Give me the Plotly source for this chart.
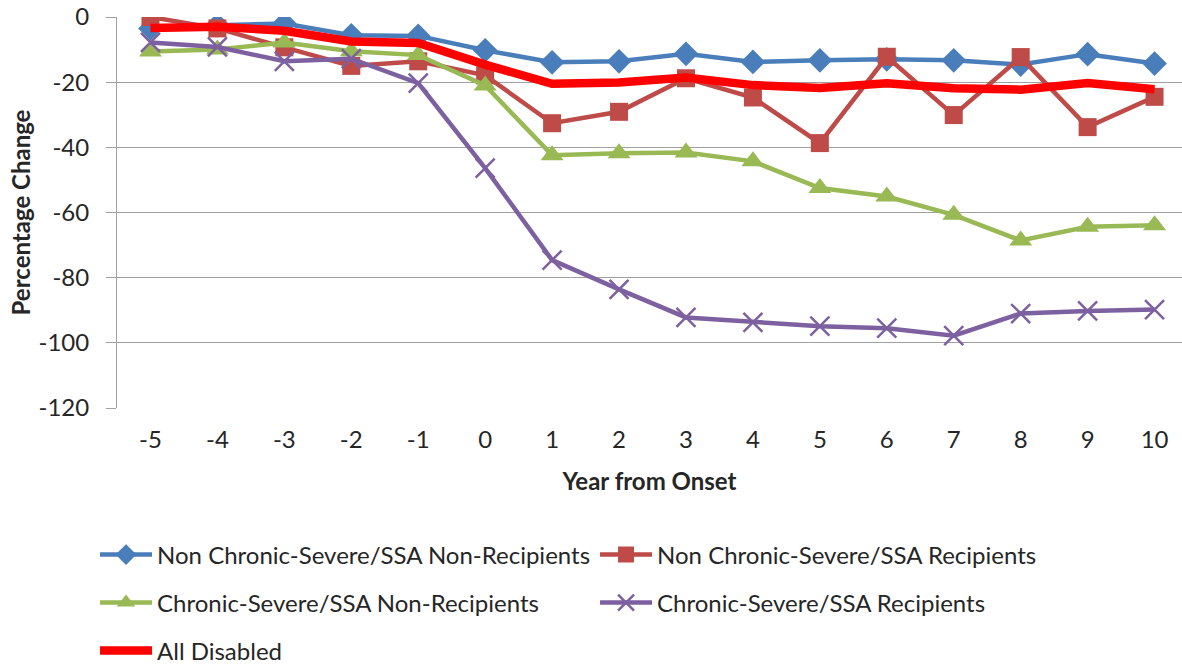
import plotly.graph_objects as go

# Years relative to disability onset
years = [-5, -4, -3, -2, -1, 0, 1, 2, 3, 4, 5, 6, 7, 8, 9, 10]
year_labels = [str(y) for y in years]

# Percentage-change axis ticks
pct_ticks = [0, -20, -40, -60, -80, -100, -120]
pct_labels = [str(v) for v in pct_ticks]

# Percentage change in earnings by group
non_cs_non_recip = [-3.5, -2.5, -2.0, -5.6, -5.8, -10.2, -13.9, -13.6, -11.3, -13.8, -13.3, -13.0, -13.3, -14.6, -11.4, -14.3]
non_cs_recip = [0.0, -3.5, -9.3, -15.0, -13.6, -17.9, -32.6, -29.1, -18.8, -24.7, -38.7, -12.2, -30.1, -12.3, -33.8, -24.5]
cs_non_recip = [-10.6, -10.0, -7.8, -10.5, -11.7, -21.0, -42.4, -41.8, -41.6, -44.3, -52.5, -55.1, -60.7, -68.6, -64.4, -63.9]
cs_recip = [-7.8, -9.2, -13.6, -12.8, -20.3, -46.4, -74.6, -83.6, -92.2, -93.7, -94.9, -95.5, -97.8, -91.0, -90.2, -89.8]
all_disabled = [-3.4, -3.0, -4.2, -7.5, -8.0, -14.6, -20.5, -20.1, -18.6, -20.9, -21.8, -20.3, -21.9, -22.3, -20.3, -22.2]

series_names = [
    "Non Chronic-Severe/SSA Non-Recipients",
    "Non Chronic-Severe/SSA Recipients",
    "Chronic-Severe/SSA Non-Recipients",
    "Chronic-Severe/SSA Recipients",
    "All Disabled",
]

FONT = "Lato"
FS = 24
TXT = "#262626"
GRID = "#a0a0a0"
LW = 4.5

fig = go.Figure()

fig.add_trace(go.Scatter(
    x=years, y=non_cs_non_recip, name=series_names[0], mode="lines+markers",
    line=dict(color="#4a7ebb", width=LW),
    marker=dict(symbol="diamond", size=19, color="#4a7ebb"),
    legend="legend",
))
fig.add_trace(go.Scatter(
    x=years, y=non_cs_recip, name=series_names[1], mode="lines+markers",
    line=dict(color="#be4b48", width=LW),
    marker=dict(symbol="square", size=18, color="#be4b48"),
    legend="legend",
))
fig.add_trace(go.Scatter(
    x=years, y=cs_non_recip, name=series_names[2], mode="lines+markers",
    line=dict(color="#98b954", width=LW),
    marker=dict(symbol="triangle-up", size=20, color="#98b954"),
    legend="legend2",
))
fig.add_trace(go.Scatter(
    x=years, y=cs_recip, name=series_names[3], mode="lines+markers",
    line=dict(color="#7d60a0", width=LW),
    marker=dict(symbol="x-thin", size=19, color="#7d60a0",
                line=dict(color="#7d60a0", width=2.5)),
    legend="legend2",
))
fig.add_trace(go.Scatter(
    x=years, y=all_disabled, name=series_names[4], mode="lines",
    line=dict(color="#ff0000", width=8.5),
    legend="legend3",
))

x_range = [-5.5, 10.41]
boundaries = [y + 0.5 for y in years[:-1]]

legend_common = dict(
    orientation="h", xref="container", yref="container",
    xanchor="left", yanchor="middle", x=0.0804,
    entrywidth=433, entrywidthmode="pixels", itemwidth=52,
    font=dict(family=FONT, size=FS, color=TXT),
    bgcolor="rgba(0,0,0,0)", borderwidth=0,
)

fig.update_layout(
    width=1182, height=664,
    margin=dict(l=117, r=0, t=17, b=256, autoexpand=False),
    paper_bgcolor="white", plot_bgcolor="white",
    font=dict(family=FONT, size=FS, color=TXT),
    showlegend=True,
    legend=dict(legend_common, y=1 - 555 / 664),
    legend2=dict(legend_common, y=1 - 603 / 664),
    legend3=dict(legend_common, y=1 - 651 / 664),
    xaxis=dict(
        range=x_range, tickmode="array", tickvals=years, ticktext=year_labels,
        showgrid=False, zeroline=False, showline=False, ticks="",
        ticklabelstandoff=15,
        title=dict(text="<b>Year from Onset</b>", standoff=21,
                   font=dict(family=FONT, size=FS, color=TXT)),
    ),
    xaxis2=dict(
        overlaying="x", anchor="y", side="top", range=x_range,
        tickmode="array", tickvals=boundaries, showticklabels=False,
        ticks="inside", ticklen=8, tickcolor=GRID, tickwidth=1,
        showline=True, linecolor=GRID, linewidth=1,
        showgrid=False, zeroline=False,
    ),
    yaxis=dict(
        range=[-120, 0], tickmode="array", tickvals=pct_ticks, ticktext=pct_labels,
        showgrid=True, gridcolor=GRID, gridwidth=1,
        zeroline=False, showline=True, linecolor=GRID, linewidth=1,
        ticks="outside", ticklen=10, tickcolor=GRID,
        ticklabelstandoff=12,
        title=dict(text="<b>Percentage Change</b>", standoff=1,
                   font=dict(family=FONT, size=24, color=TXT)),
    ),
)

fig.write_html("out.html")
